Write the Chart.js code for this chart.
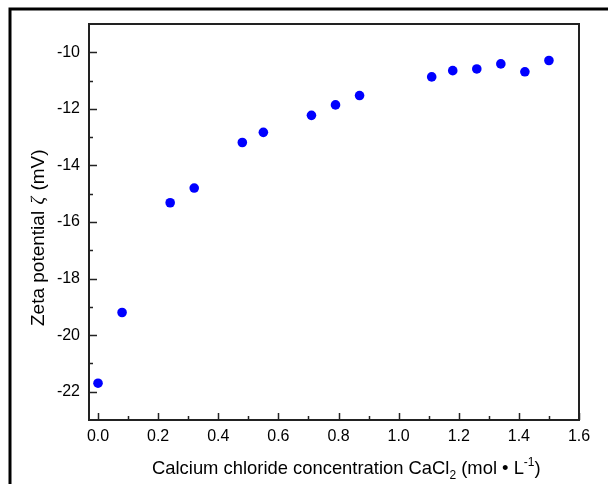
<!DOCTYPE html>
<html>
<head>
<meta charset="utf-8">
<title>Zeta potential vs CaCl2 concentration</title>
<script src="https://cdn.jsdelivr.net/npm/chart.js@4.4.1/dist/chart.umd.min.js"></script>
<style>
  body { margin: 0; background: #fff; }
  canvas { display: block; }
</style>
</head>
<body>
<canvas id="zetaChart" width="608" height="484"></canvas>
<script>
// CaCl2 concentration (mol/L) and measured zeta potential (mV)
const concentration = [0, 0.08, 0.24, 0.32, 0.48, 0.55, 0.71, 0.79, 0.87, 1.11, 1.18, 1.26, 1.34, 1.42, 1.50];
const zeta = [-21.7, -19.2, -15.32, -14.8, -13.19, -12.83, -12.23, -11.86, -11.53, -10.87, -10.65, -10.59, -10.41, -10.69, -10.29];

// major tick values for each axis
const xTicks = [0, 0.2, 0.4, 0.6, 0.8, 1.0, 1.2, 1.4, 1.6];
const yTicks = [-22, -20, -18, -16, -14, -12, -10];

const FONT = 'Arial, "Liberation Sans", sans-serif';
const SERIF = '"Liberation Serif", "Times New Roman", serif';

// minor ticks sit halfway between the major ones
function midpoints(arr) {
  const out = [];
  for (let i = 0; i < arr.length - 1; i++) out.push((arr[i] + arr[i + 1]) / 2);
  return out;
}

// draw a run of text pieces (sub/superscripts) one after another
function drawRuns(ctx, runs, x, y) {
  runs.forEach(r => {
    ctx.font = (r.italic ? 'italic ' : '') + r.size + 'px ' + (r.family || FONT);
    ctx.fillText(r.text, x, y + (r.dy || 0));
    x += ctx.measureText(r.text).width + (r.gap || 0);
  });
}

const framePlugin = {
  id: 'framePlugin',
  afterDraw(chart) {
    const ctx = chart.ctx;
    const a = chart.chartArea;
    const xs = chart.scales.x;
    const ys = chart.scales.y;
    ctx.save();

    // outer figure frame
    ctx.strokeStyle = '#000';
    ctx.lineWidth = 3;
    ctx.beginPath();
    ctx.moveTo(10, 484);
    ctx.lineTo(10, 9);
    ctx.lineTo(608, 9);
    ctx.stroke();

    // inward tick marks on the bottom and left axes
    ctx.strokeStyle = '#222';
    ctx.lineWidth = 1.5;
    ctx.beginPath();
    xTicks.forEach(v => {
      const px = Math.round(xs.getPixelForValue(v)) + 0.5;
      ctx.moveTo(px, a.bottom); ctx.lineTo(px, a.bottom - 7);
    });
    midpoints(xTicks).forEach(v => {
      const px = Math.round(xs.getPixelForValue(v)) + 0.5;
      ctx.moveTo(px, a.bottom); ctx.lineTo(px, a.bottom - 4);
    });
    yTicks.forEach(v => {
      const py = Math.round(ys.getPixelForValue(v)) + 0.5;
      ctx.moveTo(a.left, py); ctx.lineTo(a.left + 8, py);
    });
    midpoints(yTicks).forEach(v => {
      const py = Math.round(ys.getPixelForValue(v)) + 0.5;
      ctx.moveTo(a.left, py); ctx.lineTo(a.left + 4, py);
    });
    ctx.stroke();

    // plot box
    ctx.lineWidth = 2;
    ctx.strokeRect(a.left, a.top, a.right - a.left, a.bottom - a.top);

    // axis titles
    ctx.fillStyle = '#000';
    ctx.textBaseline = 'alphabetic';
    ctx.textAlign = 'left';
    drawRuns(ctx, [
      { text: 'Calcium chloride concentration CaCl', size: 18.4 },
      { text: '2', size: 12, dy: 5 },
      { text: ' (mol \u2022 L', size: 18.4 },
      { text: '-1', size: 12, dy: -8 },
      { text: ')', size: 18.4 }
    ], 152, 473.5);

    ctx.translate(43.5, 326);
    ctx.rotate(-Math.PI / 2);
    drawRuns(ctx, [
      { text: 'Zeta potential ', size: 19, gap: 1 },
      { text: '\u03B6', size: 19, italic: true, family: SERIF, gap: 1 },
      { text: ' (mV)', size: 19 }
    ], 0, 0);

    ctx.restore();
  }
};

new Chart(document.getElementById('zetaChart'), {
  type: 'scatter',
  data: {
    datasets: [{
      data: concentration.map((c, i) => ({ x: c, y: zeta[i] })),
      backgroundColor: '#0000ff',
      borderWidth: 0,
      pointRadius: 4.8,
      pointHoverRadius: 4.8
    }]
  },
  options: {
    responsive: false,
    animation: false,
    layout: { padding: { left: 0, top: 24, right: 29, bottom: 0 } },
    plugins: {
      legend: { display: false },
      tooltip: { enabled: false }
    },
    scales: {
      x: {
        type: 'linear',
        min: -0.03,
        max: 1.6,
        grid: { display: false, drawTicks: false },
        border: { display: false },
        afterBuildTicks: s => { s.ticks = xTicks.map(v => ({ value: v })); },
        afterFit: s => { s.height = 64; },
        ticks: {
          color: '#000',
          padding: 7,
          font: { family: FONT, size: 16 },
          callback: v => Number(v).toFixed(1)
        }
      },
      y: {
        type: 'linear',
        min: -23,
        max: -9,
        grid: { display: false, drawTicks: false },
        border: { display: false },
        afterBuildTicks: s => { s.ticks = yTicks.map(v => ({ value: v })); },
        afterFit: s => { s.width = 89; },
        ticks: {
          color: '#000',
          padding: 9,
          font: { family: FONT, size: 16 },
          callback: v => String(v)
        }
      }
    }
  },
  plugins: [framePlugin]
});
</script>
</body>
</html>
